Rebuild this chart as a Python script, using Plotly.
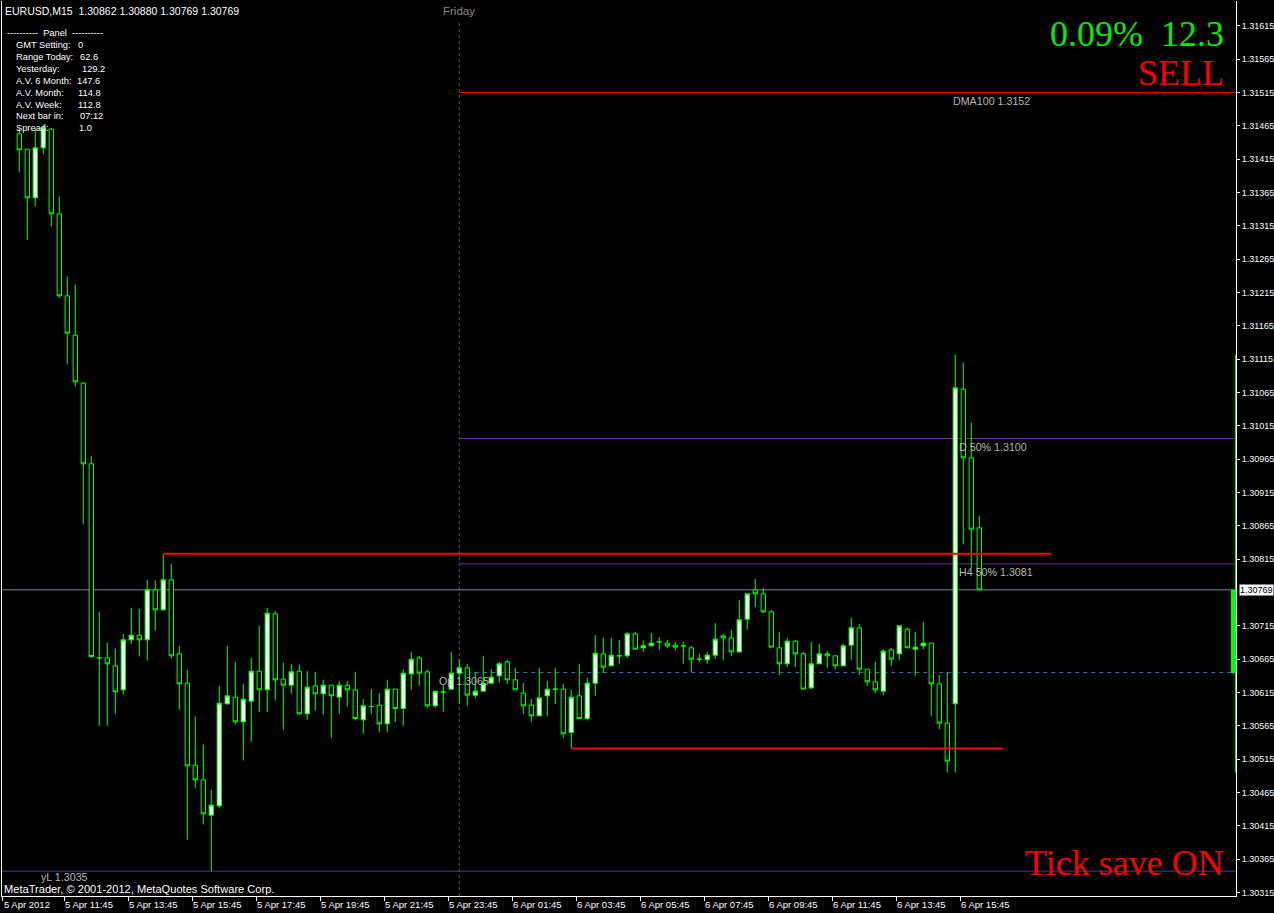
import plotly.graph_objects as go
import numpy as np

# ---------------- data (EURUSD M15, 5 Apr 2012 10:15 -> 6 Apr 2012 16:15) ----------------
opens = [1.31453, 1.31430, 1.31357, 1.31432, 1.31460, 1.31333, 1.31210, 1.31151, 1.31079, 1.30958,
         1.30667, 1.30667, 1.30655, 1.30619, 1.30694, 1.30701, 1.30694, 1.30769, 1.30739, 1.30784,
         1.30673, 1.30629, 1.30506, 1.30484, 1.30431, 1.30445, 1.30598, 1.30608, 1.30571, 1.30602,
         1.30647, 1.30619, 1.30733, 1.30635, 1.30626, 1.30647, 1.30583, 1.30625, 1.30613, 1.30626,
         1.30608, 1.30626, 1.30619, 1.30574, 1.30594, 1.30596, 1.30568, 1.30620, 1.30591, 1.30643,
         1.30667, 1.30646, 1.30595, 1.30616, 1.30620, 1.30644, 1.30652, 1.30611, 1.30617, 1.30629,
         1.30640, 1.30661, 1.30634, 1.30614, 1.30596, 1.30580, 1.30610, 1.30620, 1.30620, 1.30555,
         1.30610, 1.30576, 1.30629, 1.30673, 1.30655, 1.30670, 1.30670, 1.30703, 1.30682, 1.30685,
         1.30691, 1.30689, 1.30686, 1.30685, 1.30682, 1.30665, 1.30664, 1.30671, 1.30700, 1.30697,
         1.30676, 1.30725, 1.30769, 1.30763, 1.30736, 1.30682, 1.30658, 1.30692, 1.30673, 1.30622,
         1.30658, 1.30673, 1.30670, 1.30655, 1.30686, 1.30712, 1.30650, 1.30631, 1.30617, 1.30679,
         1.30673, 1.30710, 1.30680, 1.30685, 1.30689, 1.30628, 1.30569, 1.30598, 1.31070, 1.30967,
         1.30862]
highs = [1.31462, 1.31430, 1.31461, 1.31467, 1.31462, 1.31359, 1.31239, 1.31227, 1.31081, 1.30970,
         1.30736, 1.30690, 1.30681, 1.30703, 1.30742, 1.30740, 1.30784, 1.30783, 1.30823, 1.30808,
         1.30685, 1.30649, 1.30579, 1.30537, 1.30469, 1.30625, 1.30685, 1.30661, 1.30628, 1.30667,
         1.30715, 1.30742, 1.30737, 1.30660, 1.30658, 1.30657, 1.30647, 1.30646, 1.30634, 1.30626,
         1.30632, 1.30632, 1.30646, 1.30605, 1.30620, 1.30614, 1.30634, 1.30620, 1.30650, 1.30676,
         1.30670, 1.30649, 1.30617, 1.30626, 1.30676, 1.30665, 1.30658, 1.30646, 1.30670, 1.30650,
         1.30661, 1.30664, 1.30652, 1.30629, 1.30605, 1.30652, 1.30632, 1.30652, 1.30628, 1.30619,
         1.30658, 1.30637, 1.30701, 1.30697, 1.30697, 1.30694, 1.30706, 1.30706, 1.30693, 1.30704,
         1.30698, 1.30694, 1.30691, 1.30691, 1.30685, 1.30673, 1.30676, 1.30719, 1.30703, 1.30709,
         1.30754, 1.30763, 1.30785, 1.30772, 1.30739, 1.30706, 1.30697, 1.30694, 1.30676, 1.30691,
         1.30688, 1.30677, 1.30670, 1.30688, 1.30727, 1.30718, 1.30650, 1.30661, 1.30680, 1.30682,
         1.30715, 1.30713, 1.30706, 1.30721, 1.30689, 1.30641, 1.30646, 1.31122, 1.31110, 1.31020,
         1.30880]
lows = [1.31396, 1.31294, 1.31344, 1.31423, 1.31314, 1.31207, 1.31108, 1.31074, 1.30868, 1.30667,
        1.30565, 1.30565, 1.30583, 1.30612, 1.30688, 1.30669, 1.30663, 1.30708, 1.30738, 1.30666,
        1.30589, 1.30394, 1.30472, 1.30417, 1.30347, 1.30442, 1.30597, 1.30567, 1.30513, 1.30541,
        1.30586, 1.30586, 1.30604, 1.30559, 1.30613, 1.30582, 1.30574, 1.30588, 1.30582, 1.30547,
        1.30583, 1.30594, 1.30573, 1.30553, 1.30583, 1.30556, 1.30556, 1.30571, 1.30565, 1.30619,
        1.30625, 1.30592, 1.30592, 1.30586, 1.30620, 1.30598, 1.30595, 1.30607, 1.30617, 1.30629,
        1.30630, 1.30628, 1.30619, 1.30583, 1.30571, 1.30580, 1.30580, 1.30598, 1.30547, 1.30531,
        1.30576, 1.30573, 1.30610, 1.30644, 1.30655, 1.30658, 1.30667, 1.30679, 1.30676, 1.30685,
        1.30679, 1.30682, 1.30679, 1.30658, 1.30646, 1.30661, 1.30658, 1.30665, 1.30664, 1.30670,
        1.30674, 1.30709, 1.30743, 1.30734, 1.30683, 1.30641, 1.30653, 1.30653, 1.30620, 1.30620,
        1.30658, 1.30652, 1.30650, 1.30655, 1.30664, 1.30641, 1.30625, 1.30614, 1.30611, 1.30655,
        1.30664, 1.30682, 1.30640, 1.30680, 1.30580, 1.30560, 1.30495, 1.30495, 1.30837, 1.30802,
        1.30769]
closes = [1.31429, 1.31357, 1.31432, 1.31462, 1.31333, 1.31210, 1.31154, 1.31081, 1.30958, 1.30669,
          1.30667, 1.30658, 1.30616, 1.30694, 1.30701, 1.30694, 1.30769, 1.30739, 1.30784, 1.30670,
          1.30628, 1.30505, 1.30484, 1.30433, 1.30446, 1.30599, 1.30610, 1.30571, 1.30605, 1.30647,
          1.30619, 1.30734, 1.30634, 1.30626, 1.30646, 1.30583, 1.30623, 1.30613, 1.30626, 1.30610,
          1.30626, 1.30619, 1.30576, 1.30595, 1.30594, 1.30568, 1.30620, 1.30591, 1.30644, 1.30665,
          1.30644, 1.30595, 1.30617, 1.30616, 1.30644, 1.30652, 1.30611, 1.30617, 1.30629, 1.30638,
          1.30658, 1.30634, 1.30619, 1.30595, 1.30580, 1.30607, 1.30620, 1.30620, 1.30553, 1.30608,
          1.30576, 1.30629, 1.30674, 1.30653, 1.30671, 1.30670, 1.30703, 1.30680, 1.30685, 1.30689,
          1.30691, 1.30685, 1.30683, 1.30685, 1.30665, 1.30665, 1.30671, 1.30695, 1.30697, 1.30676,
          1.30724, 1.30763, 1.30763, 1.30736, 1.30683, 1.30658, 1.30692, 1.30673, 1.30620, 1.30658,
          1.30673, 1.30670, 1.30655, 1.30685, 1.30712, 1.30650, 1.30631, 1.30619, 1.30677, 1.30665,
          1.30715, 1.30682, 1.30683, 1.30689, 1.30628, 1.30569, 1.30512, 1.31072, 1.30967, 1.30860,
          1.30769]

first_bar_minutes = 10 * 60 + 15      # 5 Apr 10:15
bar_minutes = 15
friday_bar = 55                        # first bar of 6 Apr (period separator)

time_labels = ["5 Apr 2012", "5 Apr 11:45", "5 Apr 13:45", "5 Apr 15:45", "5 Apr 17:45",
               "5 Apr 19:45", "5 Apr 21:45", "5 Apr 23:45", "6 Apr 01:45", "6 Apr 03:45",
               "6 Apr 05:45", "6 Apr 07:45", "6 Apr 09:45", "6 Apr 11:45", "6 Apr 13:45",
               "6 Apr 15:45"]

# horizontal levels
dma100 = 1.31515
d50 = 1.30996
h4_50 = 1.30808
op_level = 1.30645
yl_level = 1.30347
res_line = (1.30823, 18, 129)
sup_line = (1.30531, 69, 123)

panel_rows = [("GMT Setting:", "0"), ("Range Today:", "62.6"), ("Yesterday:", "129.2"),
              ("A.V. 6 Month:", "147.6"), ("A.V. Month:", "114.8"), ("A.V. Week:", "112.8"),
              ("Next bar in:", "07:12"), ("Spread:", "1.0")]

# ---------------- figure geometry ----------------
W, H = 1274, 913
PL, PR, PT, PB = 2, 1236, 1, 896       # plot-area pixel box
XMIN, XMAX = -2.1625, 152.0875
YMAX = 1.3165225
YMIN = YMAX - 0.013425

def px(xp):
    return (xp - PL) / (PR - PL)

def py(yp):
    return (PB - yp) / (PB - PT)

def fmt4(v):
    return f"{v + 1e-9:.4f}"

n = len(opens)
idx = list(range(n))

def bar_of(day, hh, mm):
    return ((day - 5) * 1440 + hh * 60 + mm - first_bar_minutes) / bar_minutes

tick_vals = [XMIN + 0.12]
for lab in time_labels[1:]:
    d = int(lab.split()[0])
    hh, mm = lab.split()[2].split(":")
    tick_vals.append(bar_of(d, int(hh), int(mm)) - 0.41)

ytick_vals = [round(v, 5) for v in np.arange(1.30315, 1.31616, 0.0005)]
cur_price = closes[-1]
ytick_vals = [v for v in ytick_vals if abs(v - cur_price) > 0.0002]

fig = go.Figure()
fig.add_trace(go.Candlestick(
    x=idx, open=opens, high=highs, low=lows, close=closes,
    increasing=dict(line=dict(color="#00ff00", width=1), fillcolor="#ffffff"),
    decreasing=dict(line=dict(color="#00ff00", width=1), fillcolor="#000000"),
    whiskerwidth=0, showlegend=False, hoverinfo="skip"))

shapes = []
shapes.append(dict(type="line", xref="x", yref="paper", x0=friday_bar, x1=friday_bar,
                   y0=0, y1=py(20), line=dict(color="#5a5a5a", width=1, dash="3px,3px"),
                   layer="below"))
shapes.append(dict(type="line", xref="x", yref="y", x0=XMIN, x1=XMAX, y0=cur_price, y1=cur_price,
                   line=dict(color="#778899", width=1), layer="below"))
shapes.append(dict(type="line", xref="x", yref="y", x0=XMIN, x1=XMAX, y0=yl_level, y1=yl_level,
                   line=dict(color="#4a3c9c", width=1), layer="below"))
shapes.append(dict(type="line", xref="x", yref="y", x0=friday_bar, x1=XMAX, y0=op_level, y1=op_level,
                   line=dict(color="#2e6db4", width=1, dash="4px,4px"), layer="below"))
shapes.append(dict(type="line", xref="x", yref="y", x0=friday_bar, x1=XMAX, y0=d50, y1=d50,
                   line=dict(color="#7a2a9e", width=1), layer="below"))
shapes.append(dict(type="line", xref="x", yref="y", x0=friday_bar, x1=XMAX, y0=h4_50, y1=h4_50,
                   line=dict(color="#6a2a8c", width=1), layer="below"))
shapes.append(dict(type="line", xref="x", yref="y", x0=friday_bar, x1=XMAX, y0=dma100, y1=dma100,
                   line=dict(color="#ff0000", width=1), layer="above"))
for p, a, b in (res_line, sup_line):
    shapes.append(dict(type="line", xref="x", yref="y", x0=a, x1=b, y0=p, y1=p,
                       line=dict(color="#ff0000", width=2), layer="above"))
day_high = max(highs[friday_bar:])
day_low = min(lows[friday_bar:])
shapes.append(dict(type="line", xref="paper", yref="y", x0=px(1235.5), x1=px(1235.5),
                   y0=day_low, y1=day_high, line=dict(color="#00ff00", width=1), layer="above"))
shapes.append(dict(type="rect", xref="paper", yref="y", x0=px(1231), x1=px(1236),
                   y0=opens[friday_bar], y1=cur_price, fillcolor="#00ff00",
                   line=dict(width=0), layer="above"))

SANS = "Liberation Sans, Arial, sans-serif"
SERIF = "Liberation Serif, Times New Roman, serif"
ann = []

def txt(text, xp, yp, size, color, xanchor="left", family=SANS, bg=None):
    d = dict(text=text, x=px(xp), y=py(yp), xref="paper", yref="paper", showarrow=False,
             xanchor=xanchor, yanchor="middle", font=dict(family=family, size=size, color=color),
             borderpad=0)
    if bg:
        d["bgcolor"] = bg
    ann.append(d)

txt("EURUSD,M15\u00a0 1.30862 1.30880 1.30769 1.30769", 4, 11, 10.5, "#ffffff")
txt("----------\u00a0 Panel \u00a0----------", 6, 33, 9.3, "#ffffff")
row_y = [45, 57, 69, 81, 93, 105, 116, 128]
val_x = [77, 79, 81, 76, 77, 77, 79, 78]
for (lab, val), yy, vx in zip(panel_rows, row_y, val_x):
    txt(lab, 15, yy, 9.3, "#ffffff")
    txt(val, vx, yy, 9.3, "#ffffff")

txt("Friday", 459, 11, 11.5, "#8a8a8a", xanchor="center", bg="#000000")
txt("0.09%\u00a0 12.3", 1225, 34, 36, "#00ee00", xanchor="right", family=SERIF)
txt("SELL", 1225, 73, 36, "#ff0000", xanchor="right", family=SERIF)
txt("Tick save ON", 1225, 863, 36, "#ff0000", xanchor="right", family=SERIF)
txt("MetaTrader, © 2001-2012, MetaQuotes Software Corp.", 3, 888.5, 11.1, "#ffffff")

def lvl(text, xb, price, ys=-1):
    ann.append(dict(text=text, x=xb, y=price, xref="x", yref="y", showarrow=False,
                    xanchor="left", yanchor="top", yshift=ys, borderpad=0,
                    font=dict(family=SANS, size=10.7, color="#b8b8b8")))

lvl("DMA100 " + fmt4(dma100), 116.6, dma100)
lvl("D 50% " + fmt4(d50), 117.3, d50)
lvl("H4 50% " + fmt4(h4_50), 117.3, h4_50)
lvl("Op " + fmt4(op_level), 52.3, op_level)
lvl("yL " + fmt4(yl_level), 2.6, yl_level, ys=1)

ann.append(dict(text=f"{cur_price:.5f}", x=1, y=cur_price, xref="paper", yref="y", showarrow=False,
                xanchor="left", yanchor="middle", xshift=3, bgcolor="#ffffff", borderpad=0,
                font=dict(family=SANS, size=9, color="#000000")))

fig.update_layout(
    width=W, height=H,
    paper_bgcolor="#000000", plot_bgcolor="#000000",
    margin=dict(l=PL, r=W - PR, t=PT, b=H - PB, pad=0),
    boxgap=0.45, boxgroupgap=0,
    showlegend=False,
    shapes=shapes, annotations=ann,
    xaxis=dict(range=[XMIN, XMAX], rangeslider=dict(visible=False), showgrid=False, zeroline=False,
               showline=True, linecolor="#ffffff", linewidth=1, mirror=False,
               tickmode="array", tickvals=tick_vals, ticktext=time_labels,
               ticks="outside", ticklen=4, tickcolor="#ffffff", tickwidth=1,
               ticklabelposition="outside right", automargin=False,
               tickfont=dict(family=SANS, size=9.5, color="#ffffff")),
    yaxis=dict(range=[YMIN, YMAX], side="right", showgrid=False, zeroline=False,
               showline=True, linecolor="#ffffff", linewidth=1, mirror=True,
               tickmode="array", tickvals=ytick_vals, ticktext=[f"{v:.5f}" for v in ytick_vals],
               ticks="outside", ticklen=3, tickcolor="#ffffff", tickwidth=1, automargin=False,
               tickfont=dict(family=SANS, size=9, color="#ffffff")),
)

post = (
    "document.body.style.margin='0';document.body.style.overflow='hidden';"
    "document.body.style.background='#000';"
)

fig.write_html("out.html", config={"displayModeBar": False}, post_script=post)
